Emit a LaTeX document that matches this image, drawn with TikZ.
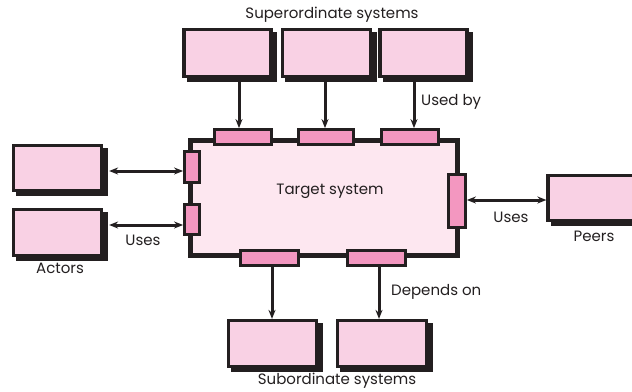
\documentclass[tikz,border=0pt]{standalone}
\usepackage{fontspec}
\setmainfont{Poppins}
\usetikzlibrary{arrows.meta}
\definecolor{edge}{HTML}{231F20}
\definecolor{boxpink}{HTML}{F9D1E4}
\definecolor{portpink}{HTML}{F397C0}
\definecolor{targetpink}{HTML}{FDE7F0}
\pgfdeclarelayer{bg}
\pgfsetlayers{bg,main}
\tikzset{
  sysbox/.style={draw=edge, line width=3.2pt, fill=boxpink, inner sep=0pt},
  port/.style={draw=edge, line width=2.8pt, fill=portpink, inner sep=0pt},
  target/.style={draw=edge, line width=5pt, fill=targetpink, inner sep=0pt},
  shadowfill/.style={fill=edge},
  conn/.style={draw=edge, line width=3pt, -{Stealth[length=9pt,width=7pt]}},
  bconn/.style={draw=edge, line width=3pt, {Stealth[length=9pt,width=7pt]}-{Stealth[length=9pt,width=7pt]}},
  lbl/.style={font=\fontsize{15}{17}\selectfont, text=edge, inner sep=0pt}
}
\begin{document}
\begin{tikzpicture}[x=1pt,y=-1pt]
\useasboundingbox (0,0) rectangle (632,391);
\clip (0,0) rectangle (632,391);
% target
\node[target, minimum width=267pt, minimum height=115pt] (tgt) at (324,198) {};
\node[lbl] (tlabel) at (330,191) {Target system};
% superordinate
\node[sysbox, minimum width=87pt, minimum height=47pt] (s1) at (227.5,53) {};
\node[sysbox, minimum width=88pt, minimum height=47pt] (s2) at (326.5,53) {};
\node[sysbox, minimum width=87pt, minimum height=47pt] (s3) at (423.5,53) {};
\node[lbl] (suplabel) at (332,15) {Superordinate systems};
% top ports
\node[port, minimum width=57pt, minimum height=15pt] (tp1) at (243,137) {};
\node[port, minimum width=55pt, minimum height=15pt] (tp2) at (326,137) {};
\node[port, minimum width=57pt, minimum height=15pt] (tp3) at (410,137) {};
% left ports
\node[port, minimum width=15pt, minimum height=31pt] (lp1) at (192,167) {};
\node[port, minimum width=15pt, minimum height=30pt] (lp2) at (192,219.5) {};
% right port
\node[port, minimum width=17pt, minimum height=53pt] (rp) at (457,201) {};
% bottom ports
\node[port, minimum width=58pt, minimum height=15pt] (bp1) at (269.5,258) {};
\node[port, minimum width=58pt, minimum height=15pt] (bp2) at (376.5,258) {};
% actors
\node[sysbox, minimum width=88pt, minimum height=45pt] (a1) at (57.5,168) {};
\node[sysbox, minimum width=88pt, minimum height=46pt] (a2) at (57.5,232.5) {};
\node[lbl] (actlabel) at (60,268) {Actors};
% peers
\node[sysbox, minimum width=100pt, minimum height=45pt] (peer) at (598,198) {};
\node[lbl] (peerlabel) at (594,236) {Peers};
% subordinate
\node[sysbox, minimum width=88pt, minimum height=46pt] (b1) at (272.5,343.5) {};
\node[sysbox, minimum width=89pt, minimum height=46pt] (b2) at (382,343.5) {};
\node[lbl] (sublabel) at (337,381) {Subordinate systems};
% shadows
\begin{pgfonlayer}{bg}
\fill[white] (0,0) rectangle (632,391);
\foreach \n in {s1,s2,s3,a1,a2,peer,b1,b2}
  \fill[shadowfill] ([shift={(4.5pt,-4pt)}]\n.north west) rectangle ([shift={(4.5pt,-4pt)}]\n.south east);
\end{pgfonlayer}
% connectors top
\draw[conn] ([xshift=-4pt]tp1.north |- s1.south) -- ([xshift=-4pt]tp1.north);
\draw[conn] ([xshift=-1pt]tp2.north |- s2.south) -- ([xshift=-1pt]tp2.north);
\draw[conn] ([xshift=4pt]tp3.north |- s3.south) -- ([xshift=4pt]tp3.north);
\node[lbl, anchor=west] (usedby) at (421,102) {Used by};
% left connectors
\draw[bconn] ([xshift=6pt,yshift=-3pt]a1.east) -- ([yshift=-3pt]a1.east -| lp1.west);
\draw[bconn] ([xshift=6pt,yshift=7.5pt]a2.east) -- ([yshift=7.5pt]a2.east -| lp2.west);
\node[lbl] (uses1) at (143,240) {Uses};
% right connector
\draw[bconn] ([yshift=1pt]rp.east) -- ([yshift=1pt]rp.east -| peer.west);
\node[lbl] (uses2) at (511,217) {Uses};
% bottom connectors
\draw[conn] ([xshift=2.5pt]bp1.south) -- ([xshift=2.5pt]bp1.south |- b1.north);
\draw[conn] ([xshift=2.5pt]bp2.south) -- ([xshift=2.5pt]bp2.south |- b2.north);
\node[lbl, anchor=west] (depends) at (391,292) {Depends on};
\end{tikzpicture}
\end{document}
